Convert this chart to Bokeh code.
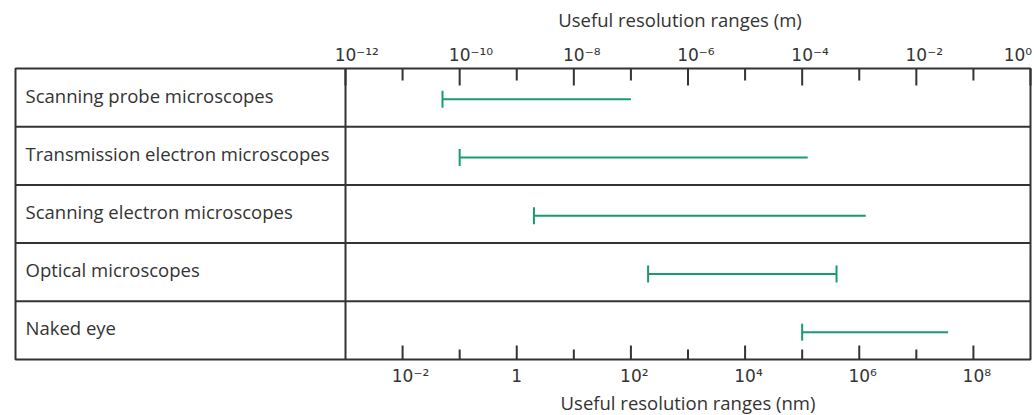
import math
from bokeh.plotting import figure
from bokeh.models import Range1d, LogScale, ColumnDataSource
from bokeh.core.properties import value
from bokeh.embed import file_html
from bokeh.resources import INLINE

# ---------------- data ----------------
categories = [
    "Scanning probe microscopes",
    "Transmission electron microscopes",
    "Scanning electron microscopes",
    "Optical microscopes",
    "Naked eye",
]
low_m = [5e-11, 1e-10, 2e-9, 2e-7, 1e-4]          # useful resolution, lower end (m)
high_m = [1e-7, 1.25e-4, 1.3e-3, 4e-4, 3.6e-2]    # upper end (m)
cap_low = [True, True, True, True, True]
cap_high = [False, False, False, True, False]

top_tick_exponents = [-12, -10, -8, -6, -4, -2, 0]          # metres
top_minor_exponents = [-11, -9, -7, -5, -3, -1]
top_tick_labels = ["10⁻¹²", "10⁻¹⁰", "10⁻⁸", "10⁻⁶", "10⁻⁴", "10⁻²", "10⁰"]
bottom_tick_exponents = [-2, 0, 2, 4, 6, 8]                  # nanometres
bottom_minor_exponents = [-1, 1, 3, 5, 7]
bottom_tick_labels = ["10⁻²", "1", "10²", "10⁴", "10⁶", "10⁸"]

top_title = "Useful resolution ranges (m)"
bottom_title = "Useful resolution ranges (nm)"

# ---------------- style / layout (pixels) ----------------
INK = "#333333"
GREEN = "#1a9a72"
W, H = 1034, 415
BOX_LEFT_PX = 15
SPLIT_PX = 345            # where 10^-12 m sits
DECADE_PX = 685 / 12      # one decade
TABLE_TOP_PX, TABLE_BOTTOM_PX = 68, 359
NM = 1e9

n = len(categories)
ROW_PX = (TABLE_BOTTOM_PX - TABLE_TOP_PX) / n
x_split = 10.0 ** top_tick_exponents[0]
x_box_right = 10.0 ** top_tick_exponents[-1]


def x_at(px):
    return 10 ** (math.log10(x_split) + (px - SPLIT_PX) / DECADE_PX)


def y_at(py):
    return n - (py - TABLE_TOP_PX) / ROW_PX


def h(px):
    return px / ROW_PX


x_box_left = x_at(BOX_LEFT_PX)
row_y = [n - i - 0.5 for i in range(n)]
label_y = [y + h(2.5) for y in row_y]
bar_y = [y - 0.03 for y in row_y]

p = figure(width=W, height=H, x_axis_type="log",
           x_axis_location=None, y_axis_location=None,
           x_range=Range1d(x_at(0), x_at(W)), y_range=Range1d(y_at(H), y_at(0)),
           output_backend="svg", toolbar_location=None,
           min_border=0, min_border_left=0, min_border_right=0,
           min_border_top=0, min_border_bottom=0)
p.grid.visible = False
p.outline_line_color = None
p.background_fill_color = "white"
p.border_fill_color = "white"
p.extra_x_ranges = {"nm": Range1d(x_at(0) * NM, x_at(W) * NM)}
p.extra_x_scales = {"nm": LogScale()}

# ---- table ----
p.quad(left=[x_box_left], right=[x_box_right], bottom=[0], top=[n],
       fill_color=None, line_color=INK, line_width=2)
p.segment(x0=[x_box_left] * (n - 1), x1=[x_box_right] * (n - 1),
          y0=list(range(1, n)), y1=list(range(1, n)), line_color=INK, line_width=2)
p.segment(x0=[x_split], x1=[x_split], y0=[0], y1=[n], line_color=INK, line_width=2)

# ---- ticks (inward) ----
def ticks(exps, y0, length, range_name="default"):
    xs = [10.0 ** e for e in exps]
    p.segment(x0=xs, x1=xs, y0=[y0] * len(xs), y1=[y0 + length] * len(xs),
              line_color=INK, line_width=2, x_range_name=range_name)


ticks(top_tick_exponents, n, -h(17))
ticks(top_minor_exponents, n, -h(12))
ticks(bottom_tick_exponents, 0, h(14), "nm")
ticks(bottom_minor_exponents, 0, h(10), "nm")

# ---- tick labels: "10" centred on the tick, exponent to its right ----
TICK_FONT = "DejaVu Sans"
TICK_SIZE = 17


def est_width(t):
    base = t[:2] if t.startswith("10") else t
    return 0.636 * TICK_SIZE * len(base) + 0.42 * TICK_SIZE * (len(t) - len(base))


def label_offsets(labels, exps, scale_shift):
    out = []
    for t, e in zip(labels, exps):
        dx = -0.636 * TICK_SIZE if t.startswith("10") else -0.318 * TICK_SIZE
        px = SPLIT_PX + (e + scale_shift) * DECADE_PX
        dx = min(dx, (W - 2) - px - est_width(t))   # keep inside the page
        out.append(dx)
    return out


top_src = ColumnDataSource(dict(
    x=[10.0 ** e for e in top_tick_exponents], y=[y_at(54)] * len(top_tick_labels),
    text=top_tick_labels, dx=label_offsets(top_tick_labels, top_tick_exponents, 12)))
p.text(x="x", y="y", text="text", x_offset="dx", source=top_src,
       text_align="left", text_baseline="alphabetic",
       text_font=value(TICK_FONT), text_font_size=value(f"{TICK_SIZE}px"), text_color=INK)

bot_src = ColumnDataSource(dict(
    x=[10.0 ** e for e in bottom_tick_exponents], y=[y_at(375)] * len(bottom_tick_labels),
    text=bottom_tick_labels, dx=label_offsets(bottom_tick_labels, bottom_tick_exponents, 3)))
p.text(x="x", y="y", text="text", x_offset="dx", source=bot_src, x_range_name="nm",
       text_align="left", text_baseline="alphabetic",
       text_font=value(TICK_FONT), text_font_size=value(f"{TICK_SIZE}px"), text_color=INK)

# ---- axis titles (centred over the scale part) ----
LABEL_FONT = "Open Sans"
LABEL_SIZE = "18.5px"
p.text(x=[1e-6], y=[y_at(19)], text=[top_title], x_offset=-8, text_align="center",
       text_baseline="alphabetic", text_font=value(LABEL_FONT),
       text_font_size=value(LABEL_SIZE), text_color=INK)
p.text(x=[1e3], y=[y_at(402)], text=[bottom_title], text_align="center",
       text_baseline="alphabetic", text_font=value(LABEL_FONT),
       text_font_size=value(LABEL_SIZE), text_color=INK, x_range_name="nm")

# ---- row labels ----
p.text(x=[x_box_left] * n, y=label_y, text=categories, x_offset=10,
       text_baseline="middle", text_align="left",
       text_font=value(LABEL_FONT), text_font_size=value(LABEL_SIZE), text_color=INK)

# ---- resolution ranges ----
src = ColumnDataSource(dict(lo=low_m, hi=high_m, y=bar_y))
p.segment(x0="lo", x1="hi", y0="y", y1="y", source=src,
          line_color=GREEN, line_width=2)
cap_x, cap_y = [], []
for lo, hi, y, cl, ch in zip(low_m, high_m, bar_y, cap_low, cap_high):
    if cl:
        cap_x.append(lo); cap_y.append(y)
    if ch:
        cap_x.append(hi); cap_y.append(y)
cap_half = h(8.5)
p.segment(x0=cap_x, x1=cap_x, y0=[y - cap_half for y in cap_y],
          y1=[y + cap_half for y in cap_y], line_color=GREEN, line_width=2)

open("out.html", "w").write(file_html(p, INLINE))
